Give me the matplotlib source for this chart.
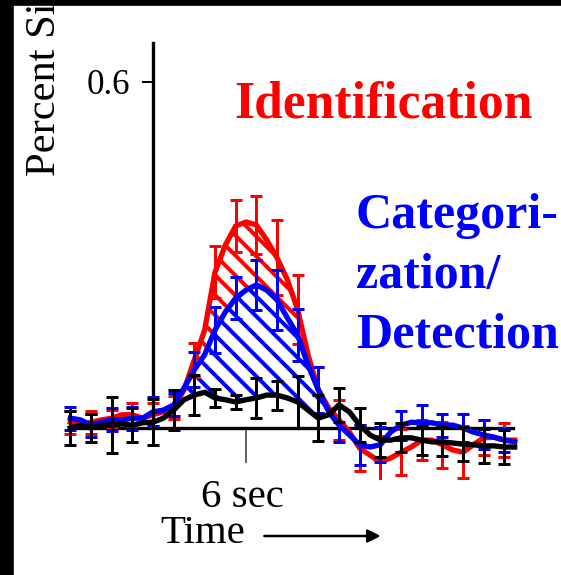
import matplotlib
import numpy as np

matplotlib.use('Agg')

import matplotlib.pyplot as plt
from matplotlib.patches import Rectangle, FancyArrowPatch

# sample times (s), one scan every 2/3 s, stimulus onset at 0
n_samples = 44
t = (np.arange(n_samples) - 8) * 2.0 / 3.0

identification = [0.010, 0.005, 0.010, 0.014, 0.017, 0.023, 0.023, 0.017, 0.023, 0.028,
                  0.035, 0.066, 0.118, 0.170, 0.270, 0.317, 0.350, 0.357, 0.352, 0.326,
                  0.295, 0.257, 0.205, 0.127, 0.066, 0.035, 0.014, -0.007, -0.035, -0.047,
                  -0.059, -0.052, -0.042, -0.033, -0.021, -0.021, -0.029, -0.038, -0.042, -0.029,
                  -0.017, -0.016, -0.021, -0.021]
categorization = [0.017, 0.014, 0.005, 0.010, 0.014, 0.014, 0.017, 0.017, 0.028, 0.031,
                  0.040, 0.069, 0.101, 0.127, 0.170, 0.201, 0.225, 0.239, 0.248, 0.239,
                  0.222, 0.191, 0.161, 0.109, 0.066, 0.028, 0.005, -0.012, -0.029, -0.033,
                  -0.029, -0.007, 0.005, 0.010, 0.009, 0.009, 0.005, 0.005, 0.000, -0.007,
                  -0.012, -0.016, -0.021, -0.024]
passive = [0.000, 0.005, 0.000, 0.005, 0.005, 0.007, 0.005, 0.009, 0.010, 0.017,
           0.031, 0.049, 0.057, 0.062, 0.052, 0.049, 0.045, 0.049, 0.052, 0.057,
           0.057, 0.052, 0.045, 0.031, 0.017, 0.023, 0.040, 0.028, 0.005, -0.012,
           -0.021, -0.021, -0.017, -0.017, -0.021, -0.024, -0.024, -0.026, -0.028, -0.029,
           -0.031, -0.031, -0.033, -0.033]

# standard errors, shown on every other scan
identification_err = [0.020, 0.020, 0.015, 0.020, 0.020, 0.020, 0.030, 0.045, 0.045, 0.050, 0.065,
                      0.060, 0.040, 0.035, 0.040, 0.045, 0.040, 0.035, 0.040, 0.045, 0.030, 0.030]
categorization_err = [0.020, 0.020, 0.020, 0.020, 0.025, 0.020, 0.030, 0.040, 0.036, 0.043, 0.052,
                      0.045, 0.040, 0.030, 0.035, 0.030, 0.025, 0.030, 0.020, 0.025, 0.025, 0.020]
passive_err = [0.030, 0.025, 0.048, 0.030, 0.040, 0.035, 0.035, 0.015, 0.012, 0.035, 0.025,
               0.045, 0.040, 0.030, 0.030, 0.030, 0.025, 0.025, 0.025, 0.030, 0.030, 0.030]

W, H = 561, 575


def fig_xy(x, y):
    # pixel position (from top left) -> figure fraction
    return x / W, 1 - y / H


def plot_response():
    plt.rcParams['font.family'] = ['Liberation Serif', 'DejaVu Serif']
    plt.rcParams['hatch.linewidth'] = 2.4

    fig = plt.figure(figsize=(W / 120, H / 120), dpi=120)
    ax = fig.add_axes([60 / W, 95 / H, 460 / W, 440 / H])
    ax.set_xlim((60 - 153) / 15.5, (520 - 153) / 15.5)
    ax.set_ylim(-52 / 577, 388 / 577)

    red = np.array(identification)
    blue = np.array(categorization)
    black = np.array(passive)
    idx = np.arange(n_samples)

    # hatched areas between the conditions
    ax.fill_between(t, blue, red, where=(idx >= 11) & (idx <= 25), interpolate=True,
                    facecolor='none', edgecolor='red', hatch='\\\\', linewidth=0, zorder=1)
    ax.fill_between(t, black, blue, where=(idx >= 11) & (idx <= 24), interpolate=True,
                    facecolor='none', edgecolor='blue', hatch='\\\\', linewidth=0, zorder=1)

    for y, err, c in [(red, identification_err, 'red'),
                      (blue, categorization_err, 'blue'),
                      (black, passive_err, 'black')]:
        ax.plot(t, y, color=c, lw=3.2, zorder=3)
        ax.errorbar(t[::2], y[::2], yerr=err, fmt='none', ecolor=c,
                    elinewidth=1.8, capsize=3.6, capthick=1.8, zorder=3)

    for s in ['top', 'right']:
        ax.spines[s].set_visible(False)
    ax.spines['left'].set_position(('data', 0))
    ax.spines['bottom'].set_position(('data', 0))
    ax.spines['left'].set_bounds(0, 385 / 577)
    ax.spines['bottom'].set_bounds((69 - 153) / 15.5, (513 - 153) / 15.5)
    ax.spines['left'].set_linewidth(2)
    ax.spines['bottom'].set_linewidth(2)
    ax.spines['bottom'].set_zorder(2)

    ax.set_yticks([0.6], labels=['0.6'])
    ax.tick_params(axis='y', length=6.5, width=1.2, pad=7, labelsize=21)
    ax.set_xticks([6], labels=[''])
    ax.tick_params(axis='x', length=21, width=0.9, color='#333333')

    fig.text(*fig_xy(45, 176), 'Percent Signal Change', rotation=90,
             ha='center', va='bottom', fontsize=25.5)
    fig.text(*fig_xy(242, 507), '6 sec', ha='center', va='baseline', fontsize=24.5)
    fig.text(*fig_xy(203, 543), 'Time', ha='center', va='baseline', fontsize=24.5)
    fig.add_artist(FancyArrowPatch(fig_xy(261, 536), fig_xy(384, 536),
                                   transform=fig.transFigure, arrowstyle='-|>',
                                   mutation_scale=16, lw=1.5, color='black'))

    fig.text(*fig_xy(383, 118), 'Identification', ha='center', va='baseline',
             fontsize=31, fontweight='bold', color='red')
    for line, base in [('Categori-', 228), ('zation/', 288), ('Detection', 347)]:
        fig.text(*fig_xy(356, base), line, ha='left', va='baseline',
                 fontsize=30, fontweight='bold', color='blue')

    # black frame pieces on the left and top edge
    fig.add_artist(Rectangle((0, 0), 13 / W, 1, transform=fig.transFigure,
                             color='black', zorder=10))
    fig.add_artist(Rectangle((0, 1 - 5 / H), 1, 5 / H, transform=fig.transFigure,
                             color='black', zorder=10))

    plt.savefig('out.png', dpi=120)


if __name__ == '__main__':
    plot_response()
